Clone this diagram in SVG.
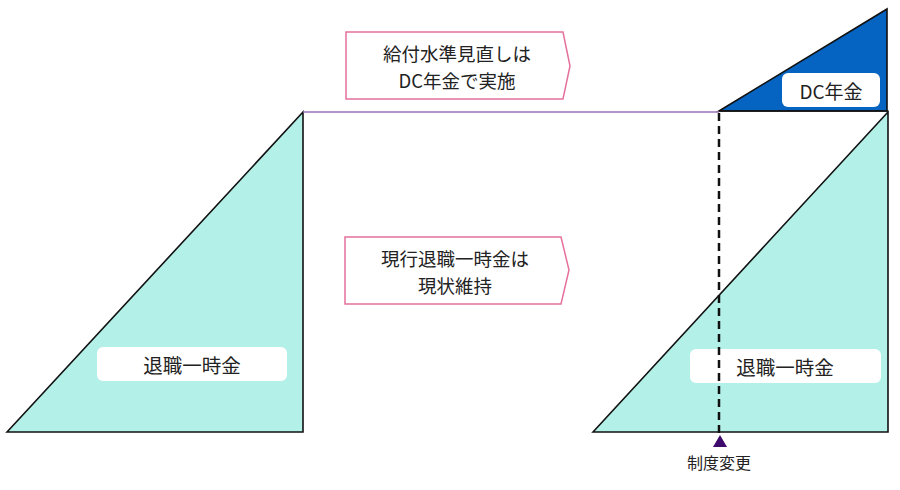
<svg xmlns="http://www.w3.org/2000/svg" width="900" height="490" viewBox="0 0 900 490">
<style>
.tri{fill:#b3f0e7;stroke:#111;stroke-width:1.6;stroke-linejoin:miter}
.lbl{fill:#fff}
.t{font-family:"Noto Sans CJK JP","Noto Sans",sans-serif;fill:#222;text-anchor:middle;dominant-baseline:central}
.arr{fill:#fff;stroke:#e5709c;stroke-width:1.5}
</style>
<rect width="900" height="490" fill="#fff"/>
<g id="left-triangle">
<polygon class="tri" points="7,432 303,112 303,432"/>
<rect class="lbl" x="97" y="347" width="190" height="34" rx="6"/>
<text class="t" x="192" y="364" font-size="19.5">退職一時金</text>
</g>
<g id="right-triangle">
<polygon class="tri" points="593,432 888,112 888,432"/>
<rect class="lbl" x="690" y="349" width="191" height="34" rx="6"/>
<text class="t" x="785" y="366" font-size="19.5">退職一時金</text>
</g>
<g id="dc-triangle">
<polygon points="719,111 887,9 887,111" fill="#0563c1" stroke="#111" stroke-width="1.6"/>
<rect class="lbl" x="782" y="73" width="98" height="34" rx="6"/>
<text class="t" x="831" y="90" font-size="19">DC年金</text>
</g>
<g id="connectors">
<line x1="303" y1="112" x2="719" y2="112" stroke="#9a70b5" stroke-width="1.5"/>
<line x1="719" y1="111" x2="888" y2="111" stroke="#111" stroke-width="1.6"/>
<line x1="719" y1="113" x2="719" y2="436" stroke="#111" stroke-width="2.5" stroke-dasharray="8,5"/>
</g>
<g id="change-marker">
<polygon points="720,435 713,447 727,447" fill="#3d0a6b"/>
<text class="t" x="719" y="462" font-size="16">制度変更</text>
</g>
<g id="note-dc">
<polygon class="arr" points="346,32 563,32 570,66 563,99 346,99"/>
<text class="t" x="457" y="53" font-size="18.5">給付水準見直しは</text>
<text class="t" x="457" y="80" font-size="18.5">DC年金で実施</text>
</g>
<g id="note-keep">
<polygon class="arr" points="345,237 561,237 569,270 561,304 345,304"/>
<text class="t" x="455" y="258" font-size="18.5">現行退職一時金は</text>
<text class="t" x="455" y="285" font-size="18.5">現状維持</text>
</g>
</svg>
